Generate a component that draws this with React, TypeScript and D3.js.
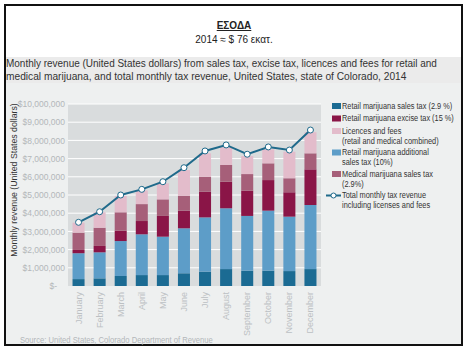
import React, { useEffect, useRef } from "react";
import * as d3 from "d3";

const months = [
  "January", "February", "March", "April", "May", "June",
  "July", "August", "September", "October", "November", "December",
];

// values in US dollars
const retailSalesTax = [380000, 420000, 550000, 600000, 600000, 700000, 790000, 930000, 840000, 840000, 820000, 930000];
const retailAdditionalTax = [1420000, 1430000, 1920000, 2240000, 2110000, 2470000, 2980000, 3340000, 3010000, 3300000, 2990000, 3520000];
const retailExciseTax = [180000, 350000, 570000, 730000, 1140000, 970000, 1410000, 1460000, 1390000, 1680000, 1340000, 1960000];
const medicalSalesTax = [950000, 1000000, 1010000, 930000, 910000, 810000, 820000, 920000, 910000, 920000, 770000, 880000];
const licencesFees = [550000, 850000, 900000, 750000, 880000, 1420000, 1290000, 970000, 990000, 770000, 1460000, 1160000];
const totalRevenue = [3500000, 4080000, 5000000, 5310000, 5730000, 6500000, 7420000, 7750000, 7240000, 7640000, 7470000, 8570000];

const yTicks = [0, 1e6, 2e6, 3e6, 4e6, 5e6, 6e6, 7e6, 8e6, 9e6, 10e6];

const seriesKeys = ["sales", "additional", "excise", "medical", "licences"];
const seriesColors: Record<string, string> = {
  sales: "#1b6b93",
  additional: "#5d9dc8",
  excise: "#8a1547",
  medical: "#a65f79",
  licences: "#e3bccb",
};

const legendItems = [
  { key: "sales", lines: ["Retail marijuana sales tax (2.9 %)"] },
  { key: "excise", lines: ["Retail marijuana excise tax (15 %)"] },
  { key: "licences", lines: ["Licences and fees", "(retail and medical combined)"] },
  { key: "additional", lines: ["Retail marijuana additional", "sales tax (10%)"] },
  { key: "medical", lines: ["Medical marijuana sales tax", "(2.9%)"] },
  { key: "total", lines: ["Total monthly tax revenue", "including licenses and fees"] },
];

const subtitle = [
  "Monthly revenue (United States dollars) from sales tax, excise tax, licences and fees for retail and",
  "medical marijuana, and total monthly tax revenue, United States, state of Colorado, 2014",
];

const lineColor = "#1f6a8b";
const sans = "'Liberation Sans', Arial, sans-serif";

// squeeze a left-anchored text horizontally (the original uses a condensed face)
const squeeze = (el: SVGTextElement, k: number) => {
  const x0 = +(el.getAttribute("x") || 0);
  d3.select(el).attr("transform", `translate(${x0},0) scale(${k},1) translate(${-x0},0)`);
};

const App: React.FC = () => {
  const svgRef = useRef<SVGSVGElement>(null);

  useEffect(() => {
    if (!svgRef.current) return;
    const svg = d3.select(svgRef.current);
    svg.selectAll("*").remove();

    const plot = { left: 68, right: 321, top: 104, bottom: 286 };

    // frame and backgrounds
    svg.append("rect").attr("x", 5).attr("y", 57).attr("width", 457).attr("height", 26).attr("fill", "#ebebeb");
    svg.append("rect").attr("x", 5).attr("y", 83).attr("width", 457).attr("height", 262).attr("fill", "#eef0f0");
    svg.append("rect").attr("x", 5).attr("y", 5).attr("width", 457).attr("height", 340)
      .attr("fill", "none").attr("stroke", "#111").attr("stroke-width", 2);

    // heading
    svg.append("text").attr("x", 234).attr("y", 29).attr("text-anchor", "middle")
      .style("font-family", sans).style("font-size", "10px").style("font-weight", "bold")
      .style("text-decoration", "underline").attr("fill", "#222").text("ΕΣΟΔΑ");
    svg.append("text").attr("x", 234).attr("y", 43).attr("text-anchor", "middle")
      .style("font-family", sans).style("font-size", "10px").attr("fill", "#222").text("2014 ≈ $ 76 εκατ.");

    const subWidths = [431, 401];
    subtitle.forEach((t, i) => {
      const s = svg.append("text").attr("x", 6).attr("y", 67 + i * 13)
        .style("font-family", sans).style("font-size", "11px").attr("fill", "#333").text(t);
      const el = s.node() as SVGTextElement;
      squeeze(el, subWidths[i] / el.getComputedTextLength());
    });

    // scales
    const x = d3.scaleBand().domain(months).range([plot.left, plot.right]).paddingInner(0.43).paddingOuter(0.215);
    const y = d3.scaleLinear().domain([0, 10e6]).range([plot.bottom, plot.top]);

    svg.append("rect").attr("x", plot.left).attr("y", plot.top)
      .attr("width", plot.right - plot.left).attr("height", plot.bottom - plot.top).attr("fill", "#d9dcdd");

    // grid
    svg.append("g").selectAll("line").data(yTicks.slice(1)).enter().append("line")
      .attr("x1", plot.left).attr("x2", plot.right)
      .attr("y1", (d) => y(d)).attr("y2", (d) => y(d))
      .attr("stroke", "#fff").attr("stroke-width", 1);

    // y axis
    const yAxis = svg.append("g").attr("transform", `translate(${plot.left},0)`)
      .call(d3.axisLeft(y).tickValues(yTicks).tickSize(0).tickPadding(3)
        .tickFormat((d) => (+d === 0 ? "$-" : d3.format("$,")(+d))));
    yAxis.select(".domain").remove();
    yAxis.selectAll("text").style("font-family", sans).style("font-size", "8.5px").attr("fill", "#b3b7ba")
      .attr("dx", (d) => (+d === 0 ? -8 : 0));

    const yTitle = svg.append("text").attr("transform", "rotate(-90)").attr("x", -180).attr("y", 17)
      .attr("text-anchor", "middle").style("font-family", sans).style("font-size", "9.5px")
      .attr("fill", "#333").text("Monthly revenue (United States dollars)");
    const yTitleEl = yTitle.node() as SVGTextElement;
    yTitle.attr("textLength", yTitleEl.getComputedTextLength() * 0.92).attr("lengthAdjust", "spacingAndGlyphs");

    // stacked bars
    const table = months.map((m, i) => ({
      month: m,
      sales: retailSalesTax[i],
      additional: retailAdditionalTax[i],
      excise: retailExciseTax[i],
      medical: medicalSalesTax[i],
      licences: licencesFees[i],
    }));
    const stacked = d3.stack<any>().keys(seriesKeys)(table);

    svg.append("g").selectAll("g").data(stacked).enter().append("g")
      .attr("fill", (s) => seriesColors[s.key])
      .selectAll("rect").data((s) => s).enter().append("rect")
      .attr("x", (d) => x(d.data.month) || 0)
      .attr("width", x.bandwidth())
      .attr("y", (d) => y(d[1]))
      .attr("height", (d) => y(d[0]) - y(d[1]));

    // month labels
    svg.append("g").selectAll("text").data(months).enter().append("text")
      .attr("transform", (m) => `translate(${(x(m) || 0) + x.bandwidth() / 2 + 3},${plot.bottom + 6}) rotate(-90)`)
      .attr("text-anchor", "end")
      .style("font-family", sans).style("font-size", "9px").attr("fill", "#bcc0c3").text((m) => m);

    // total line
    const line = d3.line<number>()
      .x((_, i) => (x(months[i]) || 0) + x.bandwidth() / 2)
      .y((d) => y(d));
    svg.append("path").datum(totalRevenue).attr("d", line).attr("fill", "none")
      .attr("stroke", lineColor).attr("stroke-width", 2);
    svg.append("g").selectAll("circle").data(totalRevenue).enter().append("circle")
      .attr("cx", (_, i) => (x(months[i]) || 0) + x.bandwidth() / 2)
      .attr("cy", (d) => y(d)).attr("r", 3)
      .attr("fill", "#fff").attr("stroke", lineColor).attr("stroke-width", 1);

    // legend
    const lg = svg.append("g");
    let ly = 106;
    legendItems.forEach((item) => {
      if (item.key === "total") {
        lg.append("line").attr("x1", 326).attr("x2", 341).attr("y1", ly).attr("y2", ly)
          .attr("stroke", lineColor).attr("stroke-width", 2);
        lg.append("circle").attr("cx", 333.5).attr("cy", ly).attr("r", 2.5)
          .attr("fill", "#fff").attr("stroke", lineColor);
      } else {
        lg.append("rect").attr("x", 332).attr("y", ly - 3).attr("width", 9).attr("height", 6)
          .attr("fill", seriesColors[item.key]);
      }
      item.lines.forEach((t, j) => {
        const txt = lg.append("text").attr("x", 342).attr("y", ly + 3 + j * 10)
          .style("font-family", sans).style("font-size", "9px").attr("fill", "#333").text(t);
        squeeze(txt.node() as SVGTextElement, 0.82);
      });
      ly += item.lines.length === 1 ? 12.5 : 21.5;
    });

    // source
    const src = svg.append("text").attr("x", 20).attr("y", 343)
      .style("font-family", sans).style("font-size", "9px").attr("fill", "#b3b7ba")
      .text("Source: United States, Colorado Department of Revenue");
    squeeze(src.node() as SVGTextElement, 0.85);
  }, []);

  return (
    <svg
      ref={svgRef}
      width={468}
      height={352}
      style={{ position: "absolute", left: 0, top: 0, background: "#fff" }}
    />
  );
};

export default App;
